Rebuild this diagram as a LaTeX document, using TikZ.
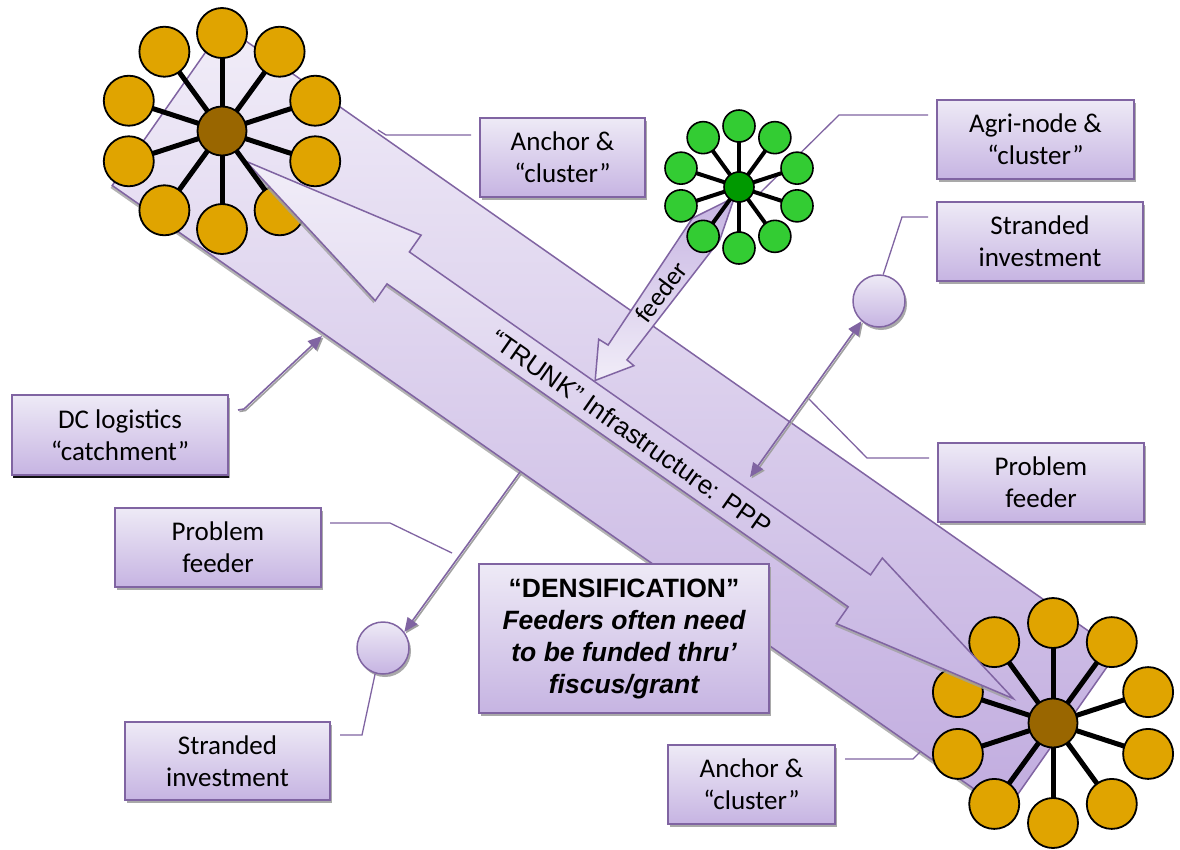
\documentclass[tikz,border=0pt]{standalone}
\usepackage{fontspec}
\setmainfont{Carlito}
\newfontfamily\arialfont{Liberation Sans}
\usetikzlibrary{arrows.meta,shadows}
\definecolor{pborder}{HTML}{8064A2}
\definecolor{plight}{HTML}{EEEAF6}
\definecolor{pdark}{HTML}{C6B4E2}
\definecolor{bandlight}{HTML}{F1EDF8}
\definecolor{banddark}{HTML}{C1ACDF}
\definecolor{gold}{HTML}{E0A400}
\definecolor{brownc}{HTML}{996600}
\definecolor{gpetal}{HTML}{33CC33}
\definecolor{gcenter}{HTML}{009900}
\definecolor{shadowgray}{HTML}{A0A0A0}
\newcommand\petalring[6]{%
  \foreach \ang in {90,126,162,198,234,270,306,342,18,54}{
    \filldraw[fill=#5,draw=black,line width=#6] ({#1+#3*cos(\ang)},{#2+#3*sin(\ang)}) circle (#4pt);
  }}
\newcommand\hubspokes[8]{%
  \foreach \ang in {90,126,162,198,234,270,306,342,18,54}{
    \draw[line width=#6] (#1,#2) -- ({#1+(#3-#4+0.5)*cos(\ang)},{#2+(#3-#4+0.5)*sin(\ang)});
  }
  \filldraw[fill=#7,draw=black,line width=#8] (#1,#2) circle (#5pt);}
\begin{document}
\begin{tikzpicture}[x=1pt,y=-1pt,
  box/.style={draw=pborder,line width=1.5pt,top color=plight,bottom color=pdark,
     align=center,inner sep=0pt,font=\fontsize{27}{32}\selectfont,
     drop shadow={shadow xshift=2pt,shadow yshift=-3pt,fill=shadowgray,opacity=0.9}},
  dotc/.style={circle,draw=pborder,line width=1.5pt,top color=plight,bottom color=pdark,
     minimum size=52pt,inner sep=0pt,
     drop shadow={shadow xshift=2pt,shadow yshift=-3pt,fill=shadowgray,opacity=0.9}},
  callout/.style={draw=pborder,line width=1.3pt},
  conn/.style={draw=pborder,line width=1.6pt},
  connshadow/.style={draw=shadowgray,line width=1.6pt,transform canvas={xshift=1.5pt,yshift=-1.5pt}},
  tipx/.style={-{Triangle[length=14pt,width=12pt]}},
  tipxx/.style={{Triangle[length=14pt,width=12pt]}-{Triangle[length=14pt,width=12pt]}},
]
\useasboundingbox (0,0) rectangle (1180,849);
\fill[white] (0,0) rectangle (1180,849);

% main band (shadow + band)
\begin{scope}[shift={(615,418.5)},rotate=-35]
  \fill[shadowgray,opacity=0.8] (-545.5,-94.5) rectangle (545.5,100.5);
  \shade[top color=bandlight,bottom color=banddark] (-545.5,-97.5) rectangle (545.5,97.5);
  \draw[pborder,line width=1.5pt] (-545.5,-97.5) rectangle (545.5,97.5);
\end{scope}

% callout lines
\coordinate (ancT) at (378,130);
\coordinate (agriT) at (760,193);
\coordinate (probRT) at (807,397);
\coordinate (probLT) at (452,553);
\coordinate (anc2T) at (920,752);
\draw[callout] (471,135) -- (386,135) -- (ancT);
\draw[callout] (928,115) -- (839,115) -- (agriT);
\draw[callout] (929,458) -- (867,458) -- (probRT);
\draw[callout] (330,523) -- (390,523) -- (probLT);
\draw[callout] (845,759) -- (913,759) -- (anc2T);

% petals of the anchor clusters
\petalring{222}{131}{98}{25}{gold}{1.8pt}
\petalring{1053}{723}{100}{25}{gold}{1.8pt}

% inner double-headed arrow (trunk)
\begin{scope}[shift={(615,418.5)},rotate=-35]
  \fill[shadowgray,opacity=0.8] (-450,4) -- (-264,-36) -- (-264,-15.5) -- (299,-15.5) -- (299,-36) -- (487,4) -- (299,44) -- (299,23.5) -- (-264,23.5) -- (-264,44) -- cycle;
  \shade[top color=bandlight,bottom color=pdark] (-450,1) -- (-264,-39) -- (-264,-18.5) -- (299,-18.5) -- (299,-39) -- (487,1) -- (299,41) -- (299,20.5) -- (-264,20.5) -- (-264,41) -- cycle;
  \draw[pborder,line width=1.5pt,line join=miter] (-450,1) -- (-264,-39) -- (-264,-18.5) -- (299,-18.5) -- (299,-39) -- (487,1) -- (299,41) -- (299,20.5) -- (-264,20.5) -- (-264,41) -- cycle;
\end{scope}

% spokes and hubs of the anchor clusters
\hubspokes{222}{131}{98}{25}{24.5}{5pt}{brownc}{1.8pt}
\hubspokes{1053}{723}{100}{25}{24.5}{5pt}{brownc}{1.8pt}

% feeder arrow
\begin{scope}[shift={(592,378)},rotate=53]
  \shade[top color=pdark,bottom color=bandlight] (0,4) -- (35,-18) -- (36,-7) -- (188,-16) -- (230,5) -- (187,19) -- (35.5,17) -- (35,26) -- cycle;
  \draw[pborder,line width=1.5pt] (0,4) -- (35,-18) -- (36,-7) -- (188,-16) -- (230,5) -- (187,19) -- (35.5,17) -- (35,26) -- cycle;
\end{scope}

% agri-node cluster (green)
\petalring{739}{187}{61}{16}{gpetal}{1.6pt}
\hubspokes{739}{187}{61}{16}{15}{4pt}{gcenter}{1.6pt}

% texts on the arrows
\node[rotate=-35,font=\arialfont\fontsize{26}{30}\selectfont] (trunk) at (631,432) {“TRUNK” Infrastructure: PPP};
\node[rotate=53,font=\fontsize{26}{30}\selectfont] (feedtxt) at (661,292) {feeder};

% small circles
\node[dotc] (cR) at (879,301) {};
\node[dotc] (cL) at (383,648) {};

% boxes
\node[box,minimum width=165pt,minimum height=79pt] (anc1) at (562.5,157.5) {Anchor \&\\“cluster”};
\node[box,minimum width=197pt,minimum height=79pt] (agri) at (1035.5,139.5) {Agri-node \&\\“cluster”};
\node[box,minimum width=206pt,minimum height=79pt] (strR) at (1040,241.5) {Stranded\\investment};
\node[box,minimum width=206pt,minimum height=79pt] (probR) at (1041,482.5) {Problem\\feeder};
\node[box,minimum width=216pt,minimum height=80pt,
      drop shadow={shadow xshift=1pt,shadow yshift=-2.5pt,fill=black,opacity=0.9}] (dc) at (120,435) {DC logistics\\“catchment”};
\node[box,minimum width=206pt,minimum height=79pt] (probL) at (218,547.5) {Problem\\feeder};
\node[box,minimum width=205pt,minimum height=78pt] (strL) at (227.5,761) {Stranded\\investment};
\node[box,minimum width=167pt,minimum height=79pt] (anc2) at (751.5,784.5) {Anchor \&\\“cluster”};
\node[box,minimum width=290pt,minimum height=149pt,font=\arialfont\fontsize{26.5}{32}\selectfont] (dens) at (624,638.5)
  {\bfseries “DENSIFICATION”\\\bfseries\itshape Feeders often need\\\bfseries\itshape to be funded thru’\\\bfseries\itshape fiscus/grant};

% callouts to the small circles
\draw[callout] (928,217) -- (902,217) -- (cR.81);
\draw[callout] (340,735) -- (362,735) -- (cL.253);

% arrows
\coordinate (dcS) at (238,410);
\coordinate (dcK) at (244,409);
\coordinate (dcE) at (322,336);
\coordinate (bandL) at (520,472);
\coordinate (bandR) at (750,477);
\draw[connshadow,tipx] (dcS) -- (dcK) -- (dcE);
\draw[conn,tipx] (dcS) -- (dcK) -- (dcE);
\draw[connshadow,tipx] (bandL) -- (cL.37);
\draw[conn,tipx] (bandL) -- (cL.37);
\draw[connshadow,tipxx] (bandR) -- (cR.229);
\draw[conn,tipxx] (bandR) -- (cR.229);
\end{tikzpicture}
\end{document}
